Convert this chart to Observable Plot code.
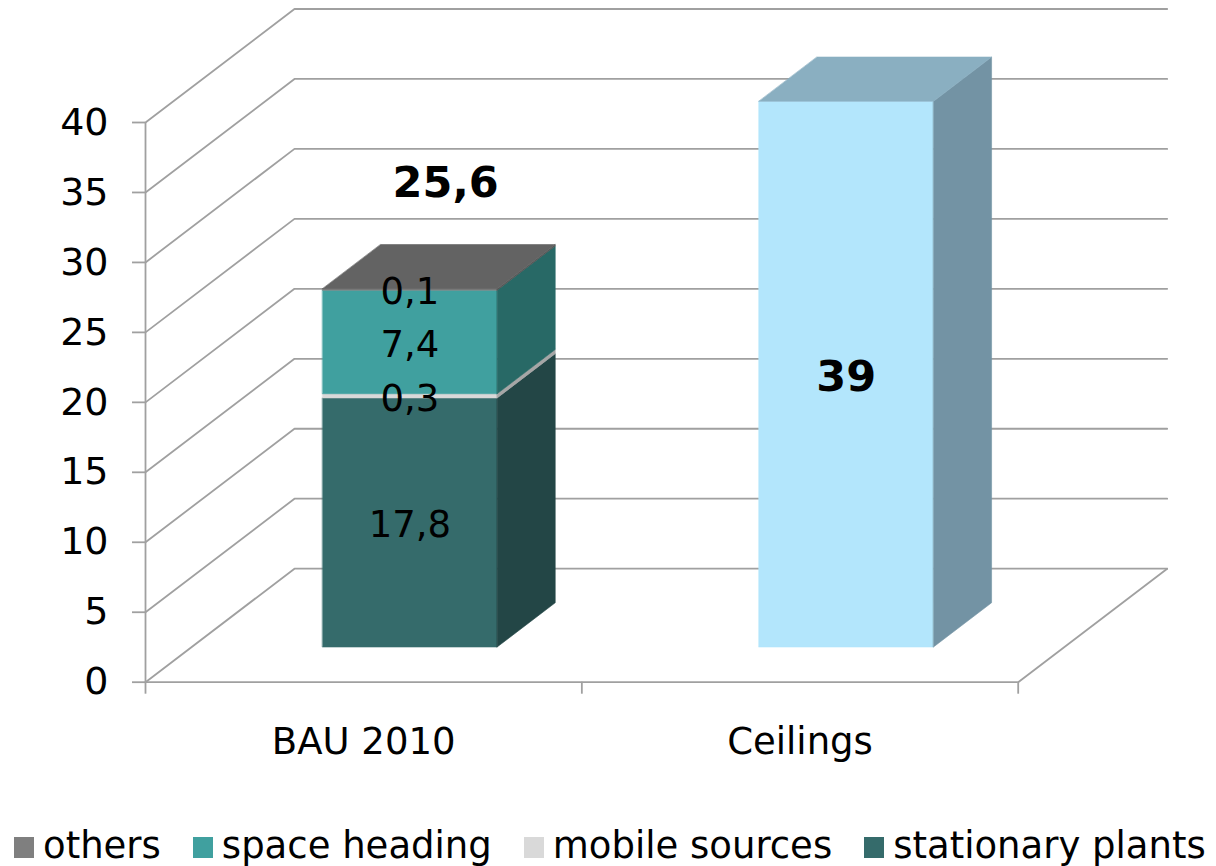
<!DOCTYPE html>
<html><head><meta charset="utf-8">
<script src="https://cdn.jsdelivr.net/npm/d3@7"></script>
<script src="https://cdn.jsdelivr.net/npm/@observablehq/plot@0.6"></script>
<style>
body{margin:0;background:#fff;width:1216px;height:866px;overflow:hidden;position:relative;font-family:"DejaVu Sans",sans-serif}
#legend{position:absolute;left:14px;top:826px;display:flex;align-items:center;height:40px;font-family:"DejaVu Sans",sans-serif;font-size:37px;line-height:40px;white-space:nowrap;color:#000}
.item{display:flex;align-items:center;margin-right:32px}
.sw{width:20px;height:21px;margin-right:9px;flex:none;position:relative;top:1px}
</style></head><body><div id="chart"></div><div id="legend"></div>
<script>
// ---- data ----
const categories = ["BAU 2010", "Ceilings"];
const bauSeries = ["stationary plants", "mobile sources", "space heading", "others"];
const bauValues = [17.8, 0.3, 7.4, 0.1];
const bauTotal = 25.6;
const ceilingsValue = 39;
const yTicks = [0, 5, 10, 15, 20, 25, 30, 35, 40];
const legendSeries = ["others", "space heading", "mobile sources", "stationary plants"];

// ---- styles ----
const frontColor = {"stationary plants": "#356b6b", "mobile sources": "#d9d9d9", "space heading": "#40a09f", "others": "#7f7f7f"};
const sideColor = {"stationary plants": "#234646", "mobile sources": "#a6a6a6", "space heading": "#286966", "others": "#555555"};
const topColor = {"others": "#636363"};
const legendColor = {"stationary plants": "#356b6b", "mobile sources": "#d9d9d9", "space heading": "#40a09f", "others": "#7f7f7f"};
const ceilFront = "#b3e6fc", ceilSide = "#7393a4", ceilTop = "#8aafc1";
const gridColor = "#a0a0a0";

// ---- 3D projection (depth offset in scale units) ----
const DX = 149 / 436.4;   // depth shift along x (category units)
const DY = 113.5 / 13.99; // depth shift along y (value units)
const B0 = 0.3, B1 = 0.7; // bar extent within category
const F0 = 0.31, F1 = 0.70; // bar depth range
const P = (cx, f, v) => ({x: cx + f * DX, y: v + f * DY});
const fmt = d => String(d).replace(".", ",");

// grid lines
const grid = [];
yTicks.forEach(v => {
  [P(0, 0, v), P(0, 1, v), P(2, 1, v)].forEach(p => grid.push({...p, g: "t" + v}));
});
[P(2, 0, 0), P(2, 1, 0)].forEach(p => grid.push({...p, g: "floor"}));

// faces
const faces = [];
function box(c, y0, y1, front, side, top) {
  faces.push({fill: front, pts: [P(c + B0, F0, y0), P(c + B1, F0, y0), P(c + B1, F0, y1), P(c + B0, F0, y1)]});
  faces.push({fill: side, pts: [P(c + B1, F0, y0), P(c + B1, F1, y0), P(c + B1, F1, y1), P(c + B1, F0, y1)]});
  if (top) faces.push({fill: top, pts: [P(c + B0, F0, y1), P(c + B1, F0, y1), P(c + B1, F1, y1), P(c + B0, F1, y1)]});
}
let acc = 0;
const segLabels = [];
bauValues.forEach((v, i) => {
  const s = bauSeries[i];
  const isTop = i === bauValues.length - 1;
  box(0, acc, acc + v, frontColor[s], sideColor[s], isTop ? topColor[s] : null);
  segLabels.push({...P(0.5, F0, acc + v / 2), text: fmt(v)});
  acc += v;
});
box(1, 0, ceilingsValue, ceilFront, ceilSide, ceilTop);
const totalLabel = [{...P(0.5, 0.55, bauTotal), text: fmt(bauTotal)}];
const ceilLabel = [{...P(1.5, F0, ceilingsValue / 2), text: fmt(ceilingsValue)}];

const H = 800;
const chart = Plot.plot({
  width: 1216, height: H,
  marginLeft: 145, marginRight: 1216 - 1017.7,
  marginTop: 122, marginBottom: H - 681.7,
  x: {type: "linear", domain: [0, 2], axis: null},
  y: {type: "linear", domain: [0, 40], axis: null},
  style: {fontFamily: "DejaVu Sans, sans-serif", fontSize: "37px", background: "white", color: "black"},
  marks: [
    Plot.line(grid, {x: "x", y: "y", z: "g", stroke: gridColor, strokeWidth: 1.8}),
    Plot.ruleX([0], {y1: 0, y2: 40, stroke: gridColor, strokeWidth: 1.8}),
    Plot.ruleY([0], {x1: 0, x2: 2, stroke: gridColor, strokeWidth: 1.8}),
    Plot.axisY({ticks: yTicks, tickSize: 13, tickPadding: 24, fontSize: 38, stroke: gridColor, strokeWidth: 1.8, fill: "black", tickFormat: d => d, label: null}),
    Plot.axisX({ticks: [0, 1, 2], tickSize: 12, stroke: gridColor, strokeWidth: 1.8, fill: "none", label: null}),
    Plot.axisX({ticks: [0.5, 1.5], tickSize: 0, tickPadding: 46, fontSize: 37, fill: "black", tickFormat: d => categories[Math.floor(d)], label: null}),
    ...faces.map(f => Plot.line(f.pts, {x: "x", y: "y", fill: f.fill, stroke: f.fill, strokeWidth: 0.6, curve: "linear-closed"})),
    Plot.text(segLabels, {x: "x", y: "y", text: "text", fontSize: 37, fill: "black", dy: 3}),
    Plot.text(totalLabel, {x: "x", y: "y", text: "text", fontSize: 43, fontWeight: "bold", fill: "black", dy: -78}),
    Plot.text(ceilLabel, {x: "x", y: "y", text: "text", fontSize: 43, fontWeight: "bold", fill: "black", dy: 3})
  ]
});
document.getElementById("chart").appendChild(chart);

const leg = document.getElementById("legend");
legendSeries.forEach(s => {
  const it = document.createElement("div"); it.className = "item";
  const sw = document.createElement("div"); sw.className = "sw"; sw.style.background = legendColor[s];
  const tx = document.createElement("span"); tx.textContent = s;
  it.appendChild(sw); it.appendChild(tx); leg.appendChild(it);
});
</script></body></html>
